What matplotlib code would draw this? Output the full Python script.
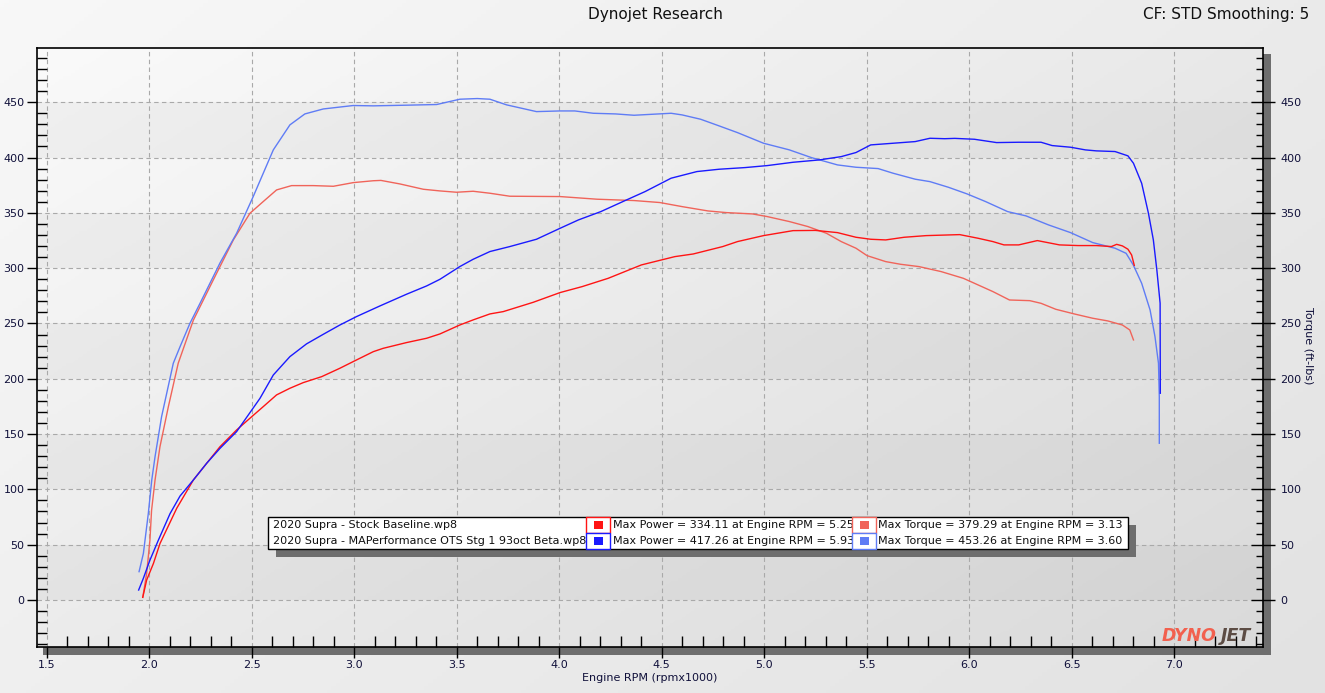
import numpy as np
import matplotlib
matplotlib.use('Agg')
import matplotlib.pyplot as plt
from matplotlib.patches import Rectangle
from matplotlib.ticker import MultipleLocator, FixedLocator
from matplotlib.colors import LinearSegmentedColormap

# ---------------- data ----------------
stock_power_rpm = [1.968, 1.987, 2.02, 2.052, 2.134, 2.215, 2.28, 2.345, 2.426, 2.491, 2.556, 2.621, 2.686,
                   2.751, 2.841, 2.93, 3.011, 3.093, 3.141, 3.255, 3.353, 3.418, 3.515, 3.58, 3.662, 3.727,
                   3.873, 4.004, 4.112, 4.239, 4.401, 4.564, 4.654, 4.798, 4.87, 4.997, 5.141, 5.25, 5.358,
                   5.448, 5.52, 5.593, 5.683, 5.791, 5.954, 6.044, 6.116, 6.17, 6.242, 6.333, 6.441, 6.531,
                   6.621, 6.694, 6.72, 6.748, 6.775, 6.793, 6.806]
stock_power_hp = [2.4, 18, 33, 51, 83, 108.5, 123.6, 138.6, 153.7, 164.3, 174.8, 185.4, 191.4,
                  196.5, 201.9, 209.5, 217, 224.5, 227.5, 232.7, 236.6, 240.5, 248.6, 253.2, 258.6, 260.7,
                  269.1, 277.9, 283.3, 290.8, 302.9, 310.4, 312.8, 319.5, 324, 329.4, 333.9, 334.1, 332.1,
                  327.9, 326.1, 325.5, 327.9, 329.4, 330.3, 327, 324, 321, 321, 324.9, 321, 320.4,
                  320.4, 319.5, 321.5, 320.1, 317.1, 311.9, 302.5]

stock_torque_rpm = [1.968, 1.987, 2.003, 2.011, 2.028, 2.052, 2.093, 2.141, 2.215, 2.312, 2.41, 2.491,
                    2.556, 2.621, 2.694, 2.8, 2.898, 2.995, 3.093, 3.13, 3.223, 3.337, 3.418, 3.499, 3.58,
                    3.662, 3.759, 4.004, 4.185, 4.365, 4.491, 4.6, 4.726, 4.816, 4.943, 5.015, 5.123,
                    5.213, 5.304, 5.376, 5.448, 5.502, 5.593, 5.665, 5.755, 5.863, 5.972, 6.026, 6.116,
                    6.197, 6.296, 6.351, 6.423, 6.513, 6.603, 6.676, 6.748, 6.784, 6.802]
stock_torque_lbft = [2.4, 24, 54, 81, 108.5, 138.6, 174.8, 214, 253, 289.3, 325.5, 349.6,
                     360.2, 370.7, 374.6, 374.6, 374, 377.3, 379.0, 379.3, 376.1, 371.3, 369.8, 368.6, 369.5,
                     367.7, 365, 364.7, 362.3, 361.1, 359.3, 355.6, 351.7, 350.2, 349, 346.6, 342.1,
                     337.6, 331.5, 324, 318, 311.3, 305.9, 303.5, 301.4, 296.9, 290.8, 286.3, 278.8,
                     271.2, 270.6, 268.2, 262.8, 258.6, 254.7, 252.3, 248.6, 244.1, 235.1]

map_power_rpm = [1.948, 1.971, 2.003, 2.044, 2.101, 2.15, 2.215, 2.28, 2.345, 2.426, 2.54, 2.605, 2.686,
                 2.767, 2.849, 2.93, 3.011, 3.125, 3.255, 3.353, 3.418, 3.515, 3.58, 3.662, 3.759, 3.889,
                 4.004, 4.094, 4.203, 4.311, 4.419, 4.546, 4.672, 4.78, 4.907, 5.015, 5.141, 5.268,
                 5.376, 5.448, 5.52, 5.629, 5.737, 5.809, 5.881, 5.93, 6.026, 6.134, 6.242, 6.351,
                 6.405, 6.495, 6.567, 6.621, 6.712, 6.775, 6.802, 6.842, 6.875, 6.899, 6.916, 6.932,
                 6.933]
map_power_hp = [9, 19.6, 36, 54, 78, 94, 108.5, 123.6, 137.1, 152.2, 182.3, 203.4, 220,
                231.5, 240.2, 248.6, 256.2, 265.8, 276.4, 283.9, 289.9, 301.4, 308, 315, 319.5, 326.1,
                336, 343.6, 351.1, 360.2, 369.2, 381.3, 387.3, 389.4, 390.9, 392.7, 395.7, 397.8,
                400.8, 404.5, 411.4, 412.9, 414.4, 417.4, 417, 417.3, 416.5, 413.5, 413.8, 413.8,
                410.8, 409.3, 406.9, 406, 405.4, 401.5, 394.8, 376.7, 349.6, 325.5, 298.4, 268.3,
                186.9]

map_torque_rpm = [1.95, 1.971, 1.995, 2.012, 2.028, 2.06, 2.117, 2.15, 2.198, 2.247, 2.345, 2.426, 2.507,
                  2.605, 2.686, 2.759, 2.849, 2.995, 3.093, 3.255, 3.402, 3.515, 3.6, 3.662, 3.743, 3.889,
                  4.004, 4.076, 4.166, 4.275, 4.365, 4.455, 4.546, 4.6, 4.69, 4.78, 4.87, 4.997, 5.123,
                  5.231, 5.358, 5.448, 5.556, 5.629, 5.737, 5.809, 5.899, 5.99, 6.08, 6.188, 6.278,
                  6.387, 6.495, 6.603, 6.712, 6.766, 6.801, 6.842, 6.883, 6.907, 6.924, 6.928, 6.928]
map_torque_lbft = [25.6, 42, 78, 108.5, 129.6, 165.8, 214, 229, 250, 268, 304.7, 331.5, 364.7,
                   406.9, 429.5, 439.4, 443.9, 447, 446.7, 447.3, 447.9, 452.7, 453.3, 452.7, 447.6, 441.5,
                   442.1, 442.1, 440, 439.4, 438.2, 439.1, 440, 438.5, 434.6, 428.6, 422.5, 412.9, 406.9,
                   399.9, 393.3, 391.2, 390, 385.8, 380.4, 378.2, 373.1, 367.1, 360.2, 351.1, 347.2,
                   339.1, 332.1, 323.1, 318, 313.4, 302.9, 286.3, 262.2, 238, 214, 183.8, 141.7]

run_names = ["2020 Supra - Stock Baseline.wp8", "2020 Supra - MAPerformance OTS Stg 1 93oct Beta.wp8"]
max_power = [334.11, 417.26]
max_power_rpm = [5.25, 5.93]
max_torque = [379.29, 453.26]
max_torque_rpm = [3.13, 3.60]

x_ticks = [1.5, 2.0, 2.5, 3.0, 3.5, 4.0, 4.5, 5.0, 5.5, 6.0, 6.5, 7.0]
y_ticks = [0, 50, 100, 150, 200, 250, 300, 350, 400, 450]

power_colors = ['#ff1414', '#1a1aff']
torque_colors = ['#f0645a', '#5f7cf5']

# ---------------- layout helpers ----------------
W, H = 1325, 693
fig = plt.figure(figsize=(W / 100, H / 100), dpi=100)
plt.rcParams['font.family'] = ['DejaVu Sans']


def fx(px):
    return px / W


def fy(py):
    return 1 - py / H


def frect(x0, y0, x1, y1, **kw):
    r = Rectangle((fx(x0), fy(y1)), fx(x1) - fx(x0), fy(y0) - fy(y1), transform=fig.transFigure, **kw)
    fig.patches.append(r)
    return r


# figure background gradient
bg = fig.add_axes([0, 0, 1, 1], zorder=-10)
gx, gy = np.meshgrid(np.linspace(0, 1, 300), np.linspace(0, 1, 200))
grad = 0.6 * gx + 0.4 * gy
bg_cmap = LinearSegmentedColormap.from_list('bg', ['#f8f8f8', '#e2e2e2'])
bg.imshow(grad, extent=[0, 1, 0, 1], aspect='auto', cmap=bg_cmap, origin='upper')
bg.set_axis_off()

# shadows of plot frame
frect(1263, 54, 1271, 655, facecolor='#6e6e6e', edgecolor='none', zorder=-5)
frect(43, 647, 1271, 655, facecolor='#6e6e6e', edgecolor='none', zorder=-5)

XL, XR = 1.452, 7.434
YB, YT = -42.5, 499
ax = fig.add_axes([fx(37), fy(647), fx(1263) - fx(37), fy(48) - fy(647)])
ax.set_xlim(XL, XR)
ax.set_ylim(YB, YT)
ax.patch.set_visible(False)

# plot-area gradient + bands
pgx, pgy = np.meshgrid(np.linspace(0, 1, 300), np.linspace(0, 1, 200))
pgrad = 0.55 * pgx + 0.45 * pgy
p_cmap = LinearSegmentedColormap.from_list('pa', ['#fafafa', '#dadada'])
ax.imshow(pgrad, extent=[XL, XR, YB, YT], aspect='auto', cmap=p_cmap, origin='upper', zorder=0)
for lo in [400, 300, 200, 100, 0]:
    ax.axhspan(lo, lo + 50, color='#000000', alpha=0.035, lw=0, zorder=0.5)
ax.axhspan(YB, 0, color='#000000', alpha=0.0, lw=0)

# grid
for xv in x_ticks:
    ax.axvline(xv, color='#a9a9a9', lw=0.8, ls=(0, (4, 3)), zorder=1)
for yv in y_ticks:
    ax.axhline(yv, color='#a9a9a9', lw=0.8, ls=(0, (4, 3)), zorder=1)

# curves
ax.plot(stock_torque_rpm, stock_torque_lbft, color=torque_colors[0], lw=1.0, zorder=3)
ax.plot(map_torque_rpm, map_torque_lbft, color=torque_colors[1], lw=1.0, zorder=3)
ax.plot(stock_power_rpm, stock_power_hp, color=power_colors[0], lw=1.0, zorder=4)
ax.plot(map_power_rpm, map_power_hp, color=power_colors[1], lw=1.0, zorder=4)

# spines & ticks
for s in ax.spines.values():
    s.set_color('black')
    s.set_linewidth(1.2)
tick_color = '#10103a'
ax.xaxis.set_major_locator(FixedLocator(x_ticks))
ax.xaxis.set_minor_locator(MultipleLocator(0.1))
ax.set_xticklabels([f"{v:.1f}" for v in x_ticks])
ax.yaxis.set_major_locator(FixedLocator(y_ticks))
ax.yaxis.set_minor_locator(MultipleLocator(10))
ax.set_yticklabels([str(v) for v in y_ticks])
ax.tick_params(axis='x', which='major', direction='out', length=8, width=1.0, pad=1.5,
               labelsize=8, labelcolor=tick_color)
ax.tick_params(axis='x', which='minor', direction='in', length=8, width=1.0)
ax.tick_params(axis='y', which='major', direction='out', length=7, width=1.0, pad=2,
               labelsize=8, labelcolor=tick_color)
ax.tick_params(axis='y', which='minor', direction='in', length=7, width=1.0)

ax2 = ax.twinx()
ax2.set_ylim(YB, YT)
ax2.patch.set_visible(False)
for s in ax2.spines.values():
    s.set_visible(False)
ax2.yaxis.set_major_locator(FixedLocator(y_ticks))
ax2.yaxis.set_minor_locator(MultipleLocator(10))
ax2.set_yticklabels([str(v) for v in y_ticks])
ax2.tick_params(axis='y', which='major', direction='inout', length=17, width=1.0, pad=4,
                labelsize=8, labelcolor=tick_color)
ax2.tick_params(axis='y', which='minor', direction='in', length=5, width=1.0)

# texts
fig.text(fx(655), fy(14), 'Dynojet Research', ha='center', va='center', fontsize=11, color='#111111')
fig.text(fx(1309), fy(14), 'CF: STD Smoothing: 5', ha='right', va='center', fontsize=11, color='#111111')
fig.text(fx(650), fy(678), 'Engine RPM (rpmx1000)', ha='center', va='center', fontsize=8, color=tick_color)
fig.text(fx(1308), fy(346), 'Torque (ft-lbs)', ha='center', va='center', rotation=-90, fontsize=8,
         color=tick_color)
fig.text(fx(-4), fy(346), 'Power (hp)', ha='center', va='center', rotation=90, fontsize=8, color='#2a9aa0')

# logo
fig.text(fx(1162), fy(636), 'DYNO', ha='left', va='center', fontsize=12.5, fontweight='heavy',
         fontstyle='italic', color='#f2604e', zorder=5)
fig.text(fx(1221), fy(636), 'JET', ha='left', va='center', fontsize=12.5, fontweight='heavy',
         fontstyle='italic', color='#5c4c44', zorder=5)

# legend box
frect(276, 525, 1136, 557, facecolor='#6e6e6e', edgecolor='none', zorder=10)
frect(268, 517, 1128, 549, facecolor='white', edgecolor='black', lw=1.0, zorder=11)
row_y = [525, 541]
for i in range(2):
    yc = row_y[i]
    fig.text(fx(273), fy(yc), run_names[i], ha='left', va='center', fontsize=8, color='#101010', zorder=12)
    fig.text(fx(613), fy(yc), f"Max Power = {max_power[i]:.2f} at Engine RPM = {max_power_rpm[i]:.2f}",
             ha='left', va='center', fontsize=8, color='#101010', zorder=12)
    fig.text(fx(878), fy(yc), f"Max Torque = {max_torque[i]:.2f} at Engine RPM = {max_torque_rpm[i]:.2f}",
             ha='left', va='center', fontsize=8, color='#101010', zorder=12)
    for (x0, x1, col) in [(586, 610, power_colors[i]), (852, 876, torque_colors[i])]:
        frect(x0, yc - 8, x1, yc + 8, facecolor='white', edgecolor=col, lw=1.0, zorder=13)
        xm = (x0 + x1) / 2
        frect(xm - 4.5, yc - 4, xm + 4.5, yc + 4, facecolor=col, edgecolor='none', zorder=14)

fig.savefig('out.png', dpi=100)
